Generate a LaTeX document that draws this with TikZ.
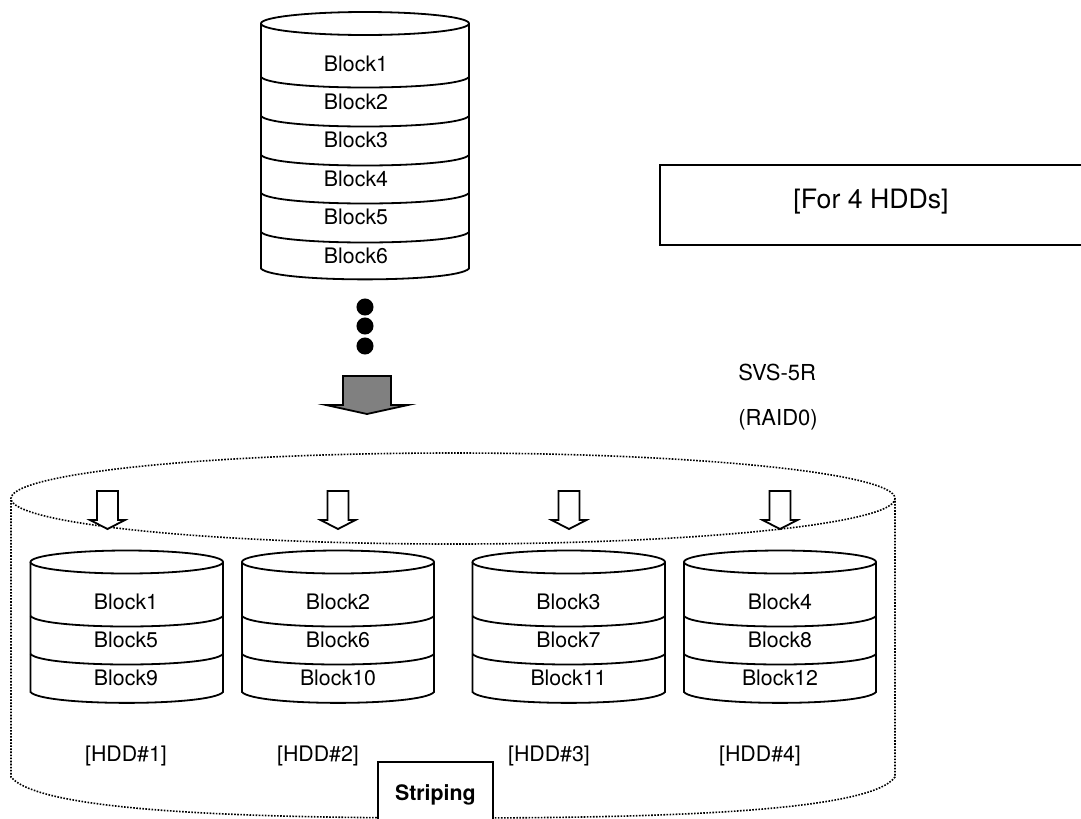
\documentclass[tikz,border=0pt]{standalone}
\usepackage{fontspec}
\setmainfont{TeX Gyre Heros}
\tikzset{
  x=0.75pt,y=-0.75pt,
  cyl/.style={line width=1.35pt,draw=black,fill=white},
  lbl/.style={inner sep=0pt,font=\fontsize{16}{19}\selectfont,text=black},
  hollow/.style={line width=1.35pt,draw=black,fill=white,line join=miter},
  dotline/.style={line width=1.2pt,draw=black,dash pattern=on 1.2pt off 1.1pt},
  blackdot/.style={circle,fill=black,inner sep=0pt,minimum size=12.8pt},
}
% #1 left x, #2 right x, #3 top-ellipse centre y, #4 bottom side y, #5 list of divider y at the side
\newcommand{\drawcyl}[5]{%
  \pgfmathsetmacro{\cx}{(#1+#2)/2}%
  \pgfmathsetmacro{\rx}{(#2-#1)/2}%
  \draw[cyl] (#1,#3) -- (#1,#4) .. controls (#1+12,#4+14.5) and (#2-12,#4+14.5) .. (#2,#4) -- (#2,#3);
  \draw[cyl] (\cx,#3) ellipse [x radius=\rx,y radius=11.5];
  \foreach \d in {#5}{\draw[cyl,fill=none] (#1,\d) .. controls (#1+12,\d+14) and (#2-12,\d+14) .. (#2,\d);}%
}
% #1 centre x
\newcommand{\drawhollow}[1]{%
  \draw[hollow] (#1-10.5,491) -- (#1+10.5,491) -- (#1+10.5,520) -- (#1+17.5,520) -- (#1,529) -- (#1-17.5,520) -- (#1-10.5,520) -- cycle;
}
\begin{document}
\begin{tikzpicture}
\useasboundingbox (0,0) rectangle (1081,818);
% top cylinder
\drawcyl{261}{469}{23.5}{268.5}{77,116,155,193,232}
\foreach \n/\y in {1/64,2/102,3/140,4/179,5/217,6/256}
  \node[lbl] (top\n) at (356,\y) {Block\n};
% dots
\node[blackdot] (d1) at (365,307) {};
\node[blackdot] (d2) at (365,326) {};
\node[blackdot] (d3) at (365,346) {};
% grey arrow
\draw[line width=1.35pt,draw=black,fill=black!50,line join=miter] (343,376) -- (391,376) -- (391,405) -- (408,405) -- (367,414) -- (326,405) -- (343,405) -- cycle;
% outer dotted cylinder
\draw[dotline] (11,500) -- (11,777) .. controls (40,812) and (250,818) .. (453,818) .. controls (660,818) and (870,812) .. (895,777) -- (895,500);
\draw[dotline] (453,498.5) ellipse [x radius=442,y radius=45.5];
% hollow arrows
\drawhollow{107.5}
\drawhollow{338}
\drawhollow{569}
\drawhollow{780}
% HDD cylinders
\drawcyl{30.5}{223}{562}{692}{616,654}
\drawcyl{242}{434}{562}{692}{616,654}
\drawcyl{472.5}{665}{562}{692}{616,654}
\drawcyl{684}{876}{562}{692}{616,654}
\foreach \t/\x/\y in {1/126/602,5/126/640,9/126/678,2/338/602,6/338/640,10/338/678,3/568.5/602,7/568.5/640,11/568.5/678,4/780/602,8/780/640,12/780/678}
  \node[lbl] (b\t) at (\x,\y) {Block\t};
\foreach \n/\x in {1/126,2/318,3/549,4/760}
  \node[lbl] (hdd\n) at (\x,756) {[HDD\#\n]};
% Striping box
\node[draw=black,line width=1.35pt,fill=white,minimum width=86.25pt,minimum height=49.5pt,inner sep=0pt,anchor=north west,font=\fontsize{16}{19}\selectfont\bfseries] (strip) at (377,761) {Striping};
% For 4 HDDs
\draw[line width=1.35pt,draw=black,line join=miter] (1081,165) -- (660,165) -- (660,245) -- (1081,245);
\node[inner sep=0pt,font=\fontsize{20}{24}\selectfont] (hdds) at (871,202) {[For 4 HDDs]};
\node[lbl,anchor=west,font=\fontsize{16.5}{19}\selectfont] (svs) at (738,372) {SVS-5R};
\node[lbl,anchor=west,font=\fontsize{16.5}{19}\selectfont] (raid) at (738,420) {(RAID0)};
\end{tikzpicture}
\end{document}
